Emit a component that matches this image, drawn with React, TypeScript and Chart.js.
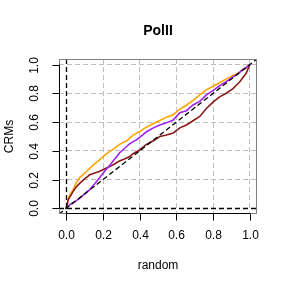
import { useEffect, useRef } from "react";
import { Chart, registerables } from "chart.js";

Chart.register(...registerables);

const chartTitle = "PolII";
const xTitle = "random";
const yTitle = "CRMs";
const tickValues = [0, 0.2, 0.4, 0.6, 0.8, 1.0];
const tickLabels = ["0.0", "0.2", "0.4", "0.6", "0.8", "1.0"];
const axisMin = -0.04;
const axisMax = 1.04;

const orangeX = [0, 0.01, 0.019, 0.037, 0.055, 0.074, 0.11, 0.146, 0.175, 0.2, 0.23, 0.255, 0.29, 0.33, 0.364, 0.4, 0.437, 0.475, 0.51, 0.546, 0.583, 0.619, 0.655, 0.691, 0.728, 0.764, 0.8, 0.836, 0.87, 0.909, 0.94, 0.963, 0.985, 1];
const orangeY = [0, 0.06, 0.095, 0.13, 0.18, 0.215, 0.256, 0.3, 0.33, 0.36, 0.39, 0.41, 0.445, 0.47, 0.51, 0.535, 0.565, 0.59, 0.612, 0.635, 0.652, 0.69, 0.718, 0.752, 0.79, 0.825, 0.85, 0.875, 0.9, 0.925, 0.945, 0.965, 0.98, 1];

const purpleX = [0, 0.019, 0.045, 0.074, 0.1, 0.128, 0.155, 0.18, 0.21, 0.237, 0.265, 0.29, 0.32, 0.346, 0.38, 0.41, 0.437, 0.475, 0.51, 0.546, 0.583, 0.619, 0.655, 0.691, 0.728, 0.764, 0.8, 0.836, 0.87, 0.909, 0.94, 0.963, 0.985, 1];
const purpleY = [0, 0.025, 0.045, 0.07, 0.1, 0.13, 0.17, 0.21, 0.26, 0.3, 0.345, 0.385, 0.42, 0.45, 0.475, 0.505, 0.533, 0.56, 0.58, 0.595, 0.615, 0.665, 0.68, 0.72, 0.745, 0.79, 0.82, 0.855, 0.88, 0.915, 0.94, 0.968, 0.985, 1];

const darkredX = [0, 0.01, 0.025, 0.037, 0.055, 0.074, 0.1, 0.128, 0.155, 0.18, 0.21, 0.237, 0.265, 0.29, 0.32, 0.346, 0.364, 0.4, 0.437, 0.475, 0.51, 0.546, 0.583, 0.619, 0.655, 0.691, 0.728, 0.764, 0.8, 0.836, 0.87, 0.909, 0.945, 0.981, 1];
const darkredY = [0, 0.06, 0.09, 0.118, 0.15, 0.175, 0.205, 0.233, 0.245, 0.256, 0.275, 0.29, 0.31, 0.33, 0.345, 0.36, 0.38, 0.406, 0.445, 0.47, 0.5, 0.51, 0.525, 0.56, 0.58, 0.61, 0.64, 0.695, 0.74, 0.776, 0.8, 0.834, 0.88, 0.94, 1];

const FONT = "'Liberation Sans', Arial, Helvetica, sans-serif";

export default function App() {
  const ref = useRef<HTMLCanvasElement>(null);

  useEffect(() => {
    if (!ref.current) return;
    const toPts = (xs: number[], ys: number[]) => xs.map((x, i) => ({ x, y: ys[i] }));

    const seg = (ctx: CanvasRenderingContext2D, x1: number, y1: number, x2: number, y2: number) => {
      ctx.beginPath();
      ctx.moveTo(x1, y1);
      ctx.lineTo(x2, y2);
      ctx.stroke();
    };

    const rPlugin = {
      id: "rstyle",
      afterDatasetsDraw(chart: any) {
        const { ctx, chartArea: a, scales } = chart;
        const xs = scales.x, ys = scales.y;
        ctx.save();
        ctx.beginPath();
        ctx.rect(a.left, a.top, a.right - a.left, a.bottom - a.top);
        ctx.clip();
        ctx.strokeStyle = "#000";
        ctx.lineWidth = 1.3;
        ctx.setLineDash([5, 3]);
        const x0 = Math.round(xs.getPixelForValue(0)) + 0.5;
        const y0 = Math.round(ys.getPixelForValue(0)) + 0.5;
        seg(ctx, x0, a.top, x0, a.bottom);
        seg(ctx, a.left, y0, a.right, y0);
        const lo = Math.min(xs.min, ys.min);
        const hi = Math.max(xs.max, ys.max);
        seg(ctx, xs.getPixelForValue(lo), ys.getPixelForValue(lo), xs.getPixelForValue(hi), ys.getPixelForValue(hi));
        ctx.restore();
      },
      afterDraw(chart: any) {
        const { ctx, chartArea: a, scales } = chart;
        const xs = scales.x, ys = scales.y;
        ctx.save();
        ctx.setLineDash([]);
        // box
        ctx.strokeStyle = "#808080";
        ctx.lineWidth = 1;
        ctx.strokeRect(Math.round(a.left) + 0.5, Math.round(a.top) + 0.5, Math.round(a.right - a.left) - 1, Math.round(a.bottom - a.top) - 1);
        // axes
        ctx.strokeStyle = "#000";
        const bx = Math.round(a.bottom) - 0.5;
        const lx = Math.round(a.left) + 0.5;
        seg(ctx, xs.getPixelForValue(tickValues[0]), bx, xs.getPixelForValue(tickValues[tickValues.length - 1]), bx);
        seg(ctx, lx, ys.getPixelForValue(tickValues[0]), lx, ys.getPixelForValue(tickValues[tickValues.length - 1]));
        ctx.fillStyle = "#000";
        ctx.font = `12px ${FONT}`;
        ctx.textAlign = "center";
        ctx.textBaseline = "middle";
        tickValues.forEach((v, i) => {
          const px = Math.round(xs.getPixelForValue(v)) + 0.5;
          seg(ctx, px, bx, px, bx + 7);
          ctx.fillText(tickLabels[i], px, bx + 22);
          const py = Math.round(ys.getPixelForValue(v)) + 0.5;
          seg(ctx, lx, py, lx - 7, py);
          ctx.save();
          ctx.translate(lx - 25, py);
          ctx.rotate(-Math.PI / 2);
          ctx.fillText(tickLabels[i], 0, 0);
          ctx.restore();
        });
        // axis titles
        const cx = (a.left + a.right) / 2;
        const cy = (a.top + a.bottom) / 2;
        ctx.fillText(xTitle, cx, 266);
        ctx.save();
        ctx.translate(10, cy);
        ctx.rotate(-Math.PI / 2);
        ctx.fillText(yTitle, 0, 0);
        ctx.restore();
        // main title
        ctx.font = `bold 14px ${FONT}`;
        ctx.fillText(chartTitle, cx, 31);
        ctx.restore();
      },
    };

    const gridScale = (extra: any) => ({
      type: "linear",
      min: axisMin,
      max: axisMax,
      afterBuildTicks: (s: any) => {
        s.ticks = tickValues.map((v) => ({ value: v }));
      },
      afterFit: (s: any) => {
        if (s.isHorizontal()) s.height = 0;
        else s.width = 0;
      },
      ticks: { display: false },
      grid: { color: "#bebebe", lineWidth: 1, drawTicks: false },
      border: { display: false, dash: [5, 3] },
      title: { display: false },
      ...extra,
    });

    const chart = new Chart(ref.current, {
      type: "line",
      data: {
        datasets: [
          { label: "purple", data: toPts(purpleX, purpleY), borderColor: "#A020F0" },
          { label: "darkred", data: toPts(darkredX, darkredY), borderColor: "#8B1A1A" },
          { label: "orange", data: toPts(orangeX, orangeY), borderColor: "#FFA500" },
        ].map((d) => ({ ...d, borderWidth: 1.6, pointRadius: 0, tension: 0, fill: false })),
      },
      options: {
        animation: false,
        responsive: false,
        devicePixelRatio: 1,
        layout: { padding: { left: 59, top: 59, right: 31, bottom: 74 } },
        plugins: { legend: { display: false }, tooltip: { enabled: false }, title: { display: false } },
        scales: {
          x: gridScale({}),
          y: gridScale({}),
        },
      } as any,
      plugins: [rPlugin],
    });
    return () => chart.destroy();
  }, []);

  return (
    <div style={{ position: "fixed", left: 0, top: 0, width: 288, height: 288, background: "#fff" }}>
      <canvas ref={ref} width={288} height={288} style={{ width: 288, height: 288, display: "block" }} />
    </div>
  );
}
